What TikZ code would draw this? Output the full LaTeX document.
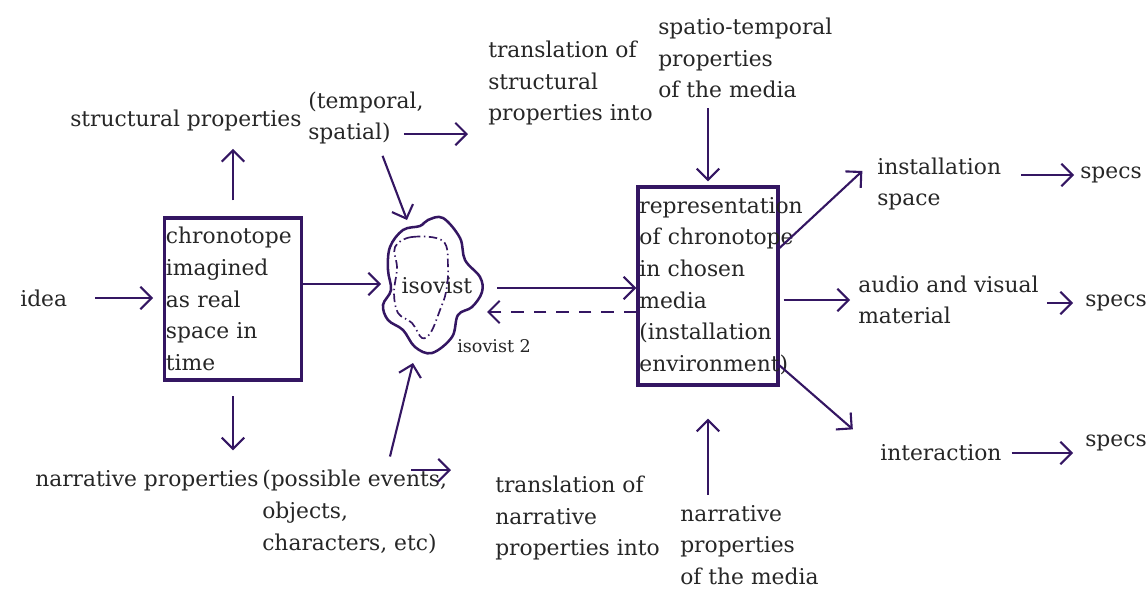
\documentclass[tikz,border=0pt]{standalone}
\usepackage{fontspec}
\setmainfont{DejaVu Serif}
\usetikzlibrary{arrows.meta}
\definecolor{ink}{RGB}{52,22,98}
\hyphenpenalty=10000

\begin{document}
\begin{tikzpicture}[
    x=0.025cm, y=-0.025cm,
    every node/.style={font=\fontsize{15.5}{22.5}\selectfont, text=black!85},
    txt/.style={inner sep=0pt, align=left, anchor=west},
    box/.style={draw=ink, line width=2.2pt, align=left, inner xsep=1pt, inner ysep=0pt},
    arr/.style={draw=ink, line width=1.5pt, -{Straight Barb[length=8pt,width=16pt]}},
    blob/.style={draw=ink, line width=1.8pt}
]
    \useasboundingbox (0,0) rectangle (1147,598);

    % Nodes
    \node[txt] (idea) at (20,298) {idea};
    \node[box, text width=3.35cm, minimum height=4.05cm] (box1) at (233,299) {chronotope\\imagined\\\mbox{as real}\\\mbox{space in}\\time};
    \node[txt] (struct) at (70,120) {structural properties};
    \node[txt] (temporal) at (308,118) {(temporal,\\spatial)};
    \node[txt] (transS) at (488,83) {translation of\\structural\\properties into};
    \node[txt] (spatio) at (658,58) {spatio-temporal\\properties\\of the media};
    \node (iso) at (437,286) {isovist};
    \node[txt, font=\fontsize{12.5}{15}\selectfont] (iso2) at (457,346) {isovist 2};
    \node[box, text width=3.43cm, minimum height=4.95cm] (box2) at (708,286) {representation\\\mbox{of chronotope}\\\mbox{in chosen}\\media\\(installation\\environment)};
    \node[txt] (inst) at (877,184) {installation\\space};
    \node[txt] (audio) at (858,300) {audio and visual\\material};
    \node[txt] (inter) at (880,453) {interaction};
    \node[txt] (specs1) at (1080,175) {specs};
    \node[txt] (specs2) at (1085,303) {specs};
    \node[txt] (specs3) at (1085,443) {specs};
    \node[txt] (narr) at (35,481) {narrative properties};
    \node[txt] (events) at (262,512) {(possible events,\\objects,\\characters, etc)};
    \node[txt] (transN) at (495,518) {translation of\\narrative\\properties into};
    \node[txt] (narrM) at (680,545) {narrative\\properties\\of the media};

    % Isovist
    \draw[blob] plot[smooth cycle, tension=0.6] coordinates {(428,220) (443,218) (460,238) (465,260) (480,277) (482,292) (472,307) (458,315) (452,337) (432,353) (415,347) (403,330) (388,320) (383,305) (391,290) (388,270) (390,247) (403,230) (420,226)};
    \draw[ink, line width=1.2pt, dash pattern=on 6pt off 2.5pt on 1pt off 2.5pt] plot[smooth cycle, tension=0.6] coordinates {(395,247) (412,237) (443,241) (448,267) (446,292) (440,310) (431,332) (422,338) (412,323) (398,313) (394,293) (397,268)};
    \coordinate (isoW) at (381,284);
    \coordinate (isoN) at (407,220);
    \coordinate (isoS) at (413,363);
    \coordinate (isoE) at (497,288);
    \coordinate (isoD) at (487,312);

    % Edges
    \draw[arr, shorten <=0.7cm, shorten >=0.25cm] (idea.east) -- (idea.east -| box1.west);
    \draw[arr, shorten <=0.4cm, shorten >=0.45cm] (box1.north) -- (box1.north |- struct.south);
    \draw[arr, shorten <=0.37cm, shorten >=0.5cm] (box1.south) -- (box1.south |- narr.north);
    \draw[arr] (box1.east |- isoW) -- (isoW);
    \draw[arr, shorten <=0.3cm] (temporal.-65) -- (isoN);
    \draw[arr, shorten >=0.5cm] ([xshift=-0.5cm, yshift=-0.4cm]temporal.east) -- ([yshift=-0.4cm]temporal.east -| transS.west);
    \draw[arr, shorten <=0.25cm, shorten >=0.1cm] (box2.north |- spatio.south) -- (box2.north);
    \draw[arr] (isoE) -- (isoE -| box2.west);
    \draw[arr, dash pattern=on 9pt off 7pt] (box2.west |- isoD) -- (isoD);
    \draw[arr, shorten <=0.35cm] ([xshift=0.8cm]events.north) -- (isoS);
    \draw[arr, shorten >=1.1cm] ([xshift=-0.9cm]events.north east) -- (events.north east -| transN.west);
    \draw[arr, shorten >=0.5cm] (box2.28) -- (inst.north west);
    \draw[arr, shorten <=0.1cm, shorten >=0.2cm] (box2.east |- audio.west) -- (audio.west);
    \draw[arr, shorten >=0.9cm] (box2.-48) -- (inter.west);
    \draw[arr, shorten <=0.5cm, shorten >=0.15cm] (specs1.west -| inst.east) -- (specs1.west);
    \draw[arr, shorten <=0.2cm, shorten >=0.3cm] (specs2.west -| audio.east) -- (specs2.west);
    \draw[arr, shorten <=0.25cm, shorten >=0.3cm] (inter.east) -- (inter.east -| specs3.west);
    \draw[arr, shorten <=0.25cm, shorten >=0.8cm] (box2.south |- narrM.north) -- (box2.south);
\end{tikzpicture}
\end{document}
